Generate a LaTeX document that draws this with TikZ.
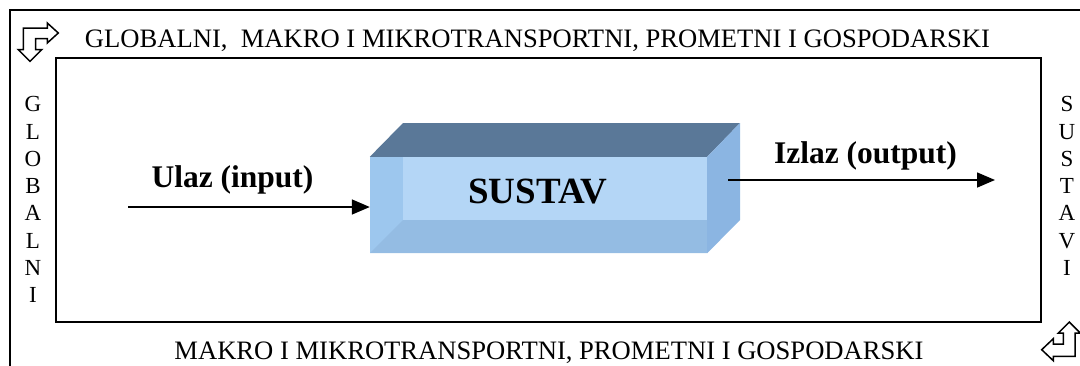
\documentclass[tikz,border=0pt]{standalone}
\usepackage{fontspec}
\setmainfont{Liberation Serif}
\usetikzlibrary{arrows.meta}
\definecolor{topface}{HTML}{5A7898}
\definecolor{rightface}{HTML}{8BB5E2}
\definecolor{frontface}{HTML}{9DC7EE}
\definecolor{frontlight}{HTML}{B4D6F6}
\definecolor{frontfloor}{HTML}{94BCE3}
\tikzset{
  frameline/.style={line width=2pt},
  flow/.style={line width=1.6pt,-{Triangle[length=18pt,width=15pt]}},
  icon/.style={line width=1.5pt,fill=white,line join=miter},
  label/.style={font=\bfseries\fontsize{31.5}{36}\selectfont,inner sep=0pt,anchor=base},
  frametext/.style={font=\fontsize{26.6}{30}\selectfont,inner sep=0pt,anchor=base},
  vletter/.style={font=\fontsize{23}{27}\selectfont,inner sep=0pt,anchor=base},
}
\begin{document}
\begin{tikzpicture}[x=1pt,y=-1pt]
\useasboundingbox (0,0) rectangle (1080,365);
% outer frame (top and left visible)
\draw[frameline] (10,366) -- (10,10) -- (1081,10);
% inner rectangle
\draw[frameline] (56,58) rectangle (1041,322);
% icons
\draw[icon] (23.3,28) -- (47.3,28) -- (47.3,23) -- (58.3,33) -- (47.3,43) -- (47.3,38.7)
  -- (35.7,38.7) -- (35.7,49.7) -- (41.7,49.7) -- (30,61.3) -- (18.3,49.7) -- (23.3,49.7) -- cycle;
\draw[icon] (1069.3,322) -- (1080.2,333) -- (1075,333) -- (1075,356.3) -- (1053.3,356.3)
  -- (1053.3,360.7) -- (1041.7,349.7) -- (1053.3,338.7) -- (1053.3,344) -- (1063.3,344)
  -- (1063.3,333) -- (1058.3,333) -- cycle;
% frame texts
\node[frametext] (toptext) at (537.5,47) {GLOBALNI,\ \ MAKRO I MIKROTRANSPORTNI, PROMETNI I GOSPODARSKI};
\node[frametext] (bottomtext) at (549,359) {MAKRO I MIKROTRANSPORTNI, PROMETNI I GOSPODARSKI};
\foreach \l [count=\i] in {G,L,O,B,A,L,N,I}
  \node[vletter] (gl\i) at (33,{111.7+27.3*(\i-1)}) {\l};
\foreach \l [count=\i] in {S,U,S,T,A,V,I}
  \node[vletter] (su\i) at (1067,{111.7+27.3*(\i-1)}) {\l};
% 3D box
\node[draw=none,fill=frontface,inner sep=0pt,minimum width=337pt,minimum height=96pt] (front) at (538.5,205) {};
\fill[frontlight] (403,157) rectangle (707,220);
\fill[frontfloor] (370,253) -- (403,220) -- (707,220) -- (707,253) -- cycle;
\fill[topface] (front.north west) -- (403,123) -- (740,123) -- (front.north east) -- cycle;
\fill[rightface] (front.north east) -- (740,123) -- (740,220) -- (front.south east) -- cycle;
\node[font=\bfseries\fontsize{37}{40}\selectfont,inner sep=0pt,anchor=base] (sustav) at (537.5,203) {SUSTAV};
% flows
\coordinate (inStart) at (128,207);
\coordinate (outStart) at (728,180);
\coordinate (outEnd) at (995,180);
\draw[flow] (inStart) -- (front.west |- inStart);
\draw[flow] (outStart) -- (outEnd);
\node[label] (ulaz) at (232.5,187) {Ulaz (input)};
\node[label] (izlaz) at (865.5,163) {Izlaz (output)};
\end{tikzpicture}
\end{document}
